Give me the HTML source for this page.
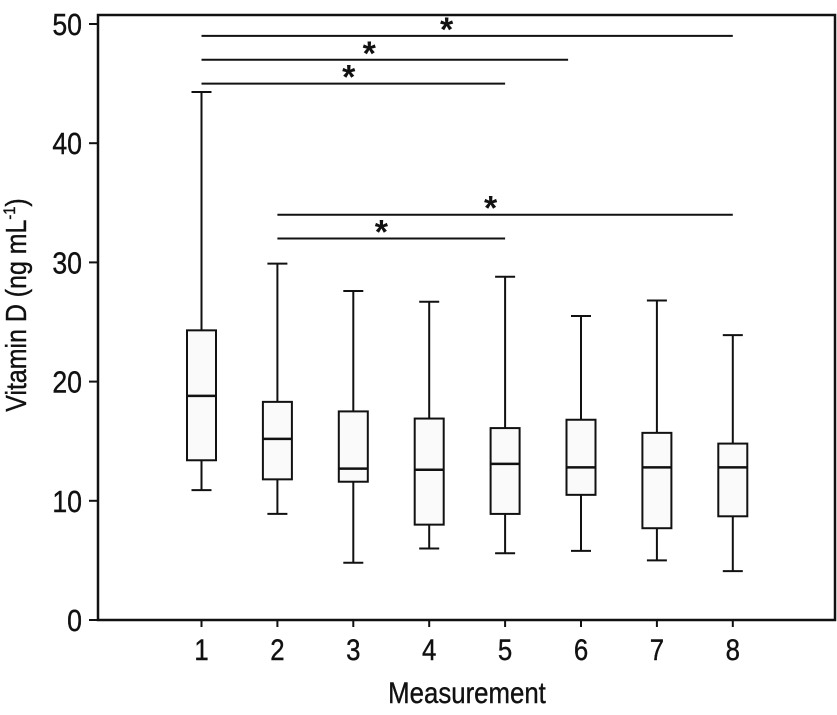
<!DOCTYPE html>
<html><head><meta charset="utf-8"><style>
body{margin:0;background:#fff}
svg text{font-family:"Liberation Sans Narrow","Liberation Sans",sans-serif;fill:#111}
</style></head><body>
<svg width="837" height="710" viewBox="0 0 837 710" xmlns="http://www.w3.org/2000/svg">
<g id="plot"></g>
</svg>
<script>
const categories=["1","2","3","4","5","6","7","8"];
const whiskerLow=[10.9,8.9,4.8,6.0,5.6,5.8,5.0,4.1];
const q1=[13.4,11.8,11.6,8.0,8.9,10.5,7.7,8.7];
const median=[18.8,15.2,12.7,12.6,13.1,12.8,12.8,12.8];
const q3=[24.3,18.3,17.5,16.9,16.1,16.8,15.7,14.8];
const whiskerHigh=[44.3,29.9,27.6,26.7,28.8,25.5,26.8,23.9];
const yTicks=[0,10,20,30,40,50];
const sigFrom=[1,1,1,2,2];
const sigTo=[8,5.83,5,8,5];
const sigStar=[4.23,3.21,2.94,4.81,3.37];
const sigLevel=[49,47,45,34,32];

const NS="http://www.w3.org/2000/svg";
const g=document.getElementById('plot');
const L=98,R=835,T=15,B=620;
const y=v=>620-v*11.92;
const x=i=>201.5+(i-1)*75.9;
function el(tag,a,parent){const e=document.createElementNS(NS,tag);for(const k in a)e.setAttribute(k,a[k]);(parent||g).appendChild(e);return e;}
function txt(px,py,s,anchor){return el('text',{transform:`translate(${px},${py}) scale(0.86,1)`,'text-anchor':anchor,'font-size':s,stroke:'#111','stroke-width':0.4});}

const frame=el('rect',{x:L,y:T,width:R-L,height:B-T,fill:'none',stroke:'#111','stroke-width':2.5});



yTicks.forEach(v=>{
  const t=el('line',{x1:89,x2:L,y1:y(v),y2:y(v),stroke:'#111','stroke-width':2});
  
  
  const tx=txt(82,y(v)+11,31,'end');
  tx.textContent=v;
  
  
});

categories.forEach((c,i)=>{
  const cx=x(i+1);
  const grp=el('g',{});
  
  
  el('line',{x1:cx,x2:cx,y1:B,y2:B+7,stroke:'#111','stroke-width':2},grp);
  el('line',{x1:cx,x2:cx,y1:y(whiskerHigh[i]),y2:y(q3[i]),stroke:'#111','stroke-width':2},grp);
  el('line',{x1:cx,x2:cx,y1:y(q1[i]),y2:y(whiskerLow[i]),stroke:'#111','stroke-width':2},grp);
  el('line',{x1:cx-10,x2:cx+10,y1:y(whiskerHigh[i]),y2:y(whiskerHigh[i]),stroke:'#111','stroke-width':2},grp);
  el('line',{x1:cx-10,x2:cx+10,y1:y(whiskerLow[i]),y2:y(whiskerLow[i]),stroke:'#111','stroke-width':2},grp);
  el('rect',{x:cx-14.5,y:y(q3[i]),width:29,height:y(q1[i])-y(q3[i]),fill:'#fafafa',stroke:'#111','stroke-width':2},grp);
  el('line',{x1:cx-14.5,x2:cx+14.5,y1:y(median[i]),y2:y(median[i]),stroke:'#111','stroke-width':2.5},grp);
  const tx=txt(cx,660,30,'middle');
  tx.textContent=c;
  
  
});

sigFrom.forEach((f,i)=>{
  const ln=el('line',{x1:x(f),x2:x(sigTo[i]),y1:y(sigLevel[i]),y2:y(sigLevel[i]),stroke:'#111','stroke-width':2});
  
  
  const st=el('text',{x:x(sigStar[i]),y:y(sigLevel[i])+5,'text-anchor':'middle','font-size':34,'font-weight':'bold'});
  st.textContent='*';
  
  
});

const xt=txt(467,703,30,'middle');
xt.textContent='Measurement';


const yt=el('text',{transform:'translate(26,305) rotate(-90) scale(0.86,1)','text-anchor':'middle','font-size':29,stroke:'#111','stroke-width':0.4});
yt.innerHTML='Vitamin D (ng mL<tspan font-size="17" dy="-11">-1</tspan><tspan dy="11">)</tspan>';


</script>
</body></html>
